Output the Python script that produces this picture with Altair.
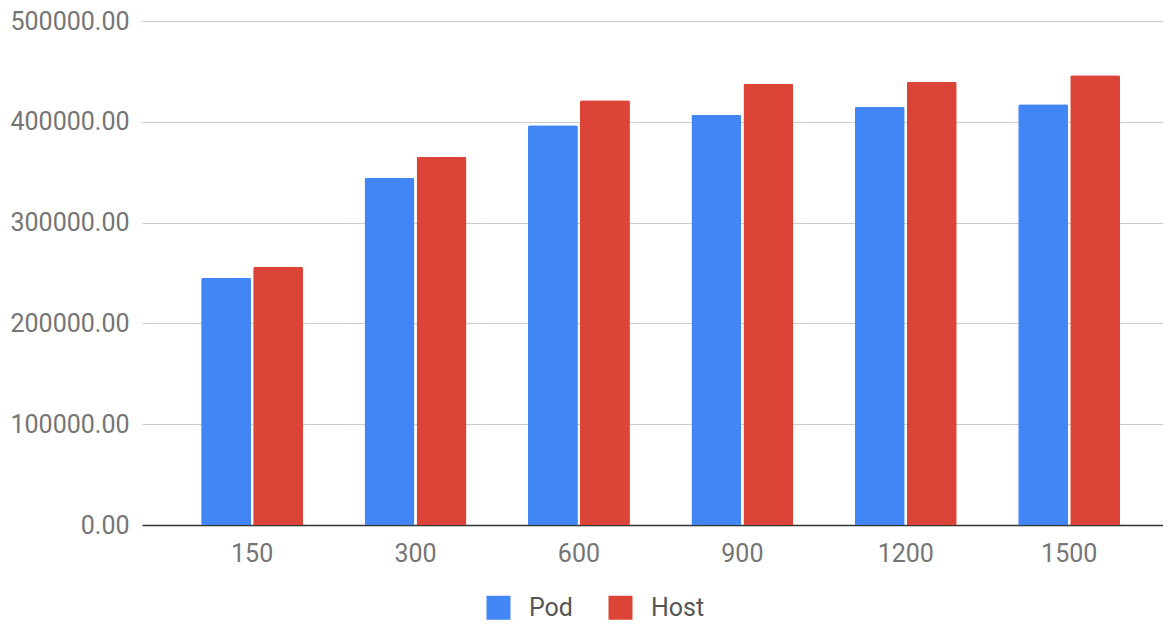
import altair as alt
import pandas as pd

categories = ["150", "300", "600", "900", "1200", "1500"]
pod = [245300, 344500, 396500, 407000, 415000, 417300]
host = [256000, 365400, 421300, 437800, 439800, 446100]
series = ["Pod", "Host"]
colors = ["#4285F4", "#DB4437"]

rows = []
for c, p, h in zip(categories, pod, host):
    rows.append({"cat": c, "series": "Pod", "value": p})
    rows.append({"cat": c, "series": "Host", "value": h})
df = pd.DataFrame(rows)

FONT = "Roboto"
FS = 25

chart = alt.Chart(df).mark_bar(
    cornerRadiusTopLeft=2, cornerRadiusTopRight=2
).encode(
    x=alt.X("cat:N", sort=categories, title=None,
            scale=alt.Scale(paddingInner=0.376, align=0.58, paddingOuter=0.312),
            axis=alt.Axis(labelAngle=0, labelFontSize=FS, labelFont=FONT,
                          labelColor="#757575", labelPadding=16, ticks=False,
                          domainColor="#333333", domainWidth=1.5, grid=False)),
    xOffset=alt.XOffset("series:N", sort=series,
                        scale=alt.Scale(paddingInner=0.04)),
    y=alt.Y("value:Q", title=None,
            scale=alt.Scale(domain=[0, 500000], nice=False),
            axis=alt.Axis(values=[0, 100000, 200000, 300000, 400000, 500000],
                          format=".2f", labelFontSize=FS, labelFont=FONT,
                          labelColor="#757575", labelPadding=13, ticks=False,
                          domain=False, gridColor="#cccccc", gridWidth=1.2)),
    color=alt.Color("series:N", sort=series,
                    scale=alt.Scale(domain=series, range=colors),
                    legend=alt.Legend(title=None, orient="none", direction="horizontal",
                                      legendX=344, legendY=574,
                                      symbolType="square", symbolSize=576,
                                      symbolStrokeWidth=0,
                                      labelFontSize=FS, labelFont=FONT,
                                      labelColor="#555555", columnPadding=35,
                                      labelOffset=18)),
).properties(
    width=1021, height=504,
    padding={"left": 2, "top": 1, "right": 0, "bottom": 0},
).configure_view(stroke=None)

chart.save("out.html", embed_options={"renderer": "svg", "actions": False})
